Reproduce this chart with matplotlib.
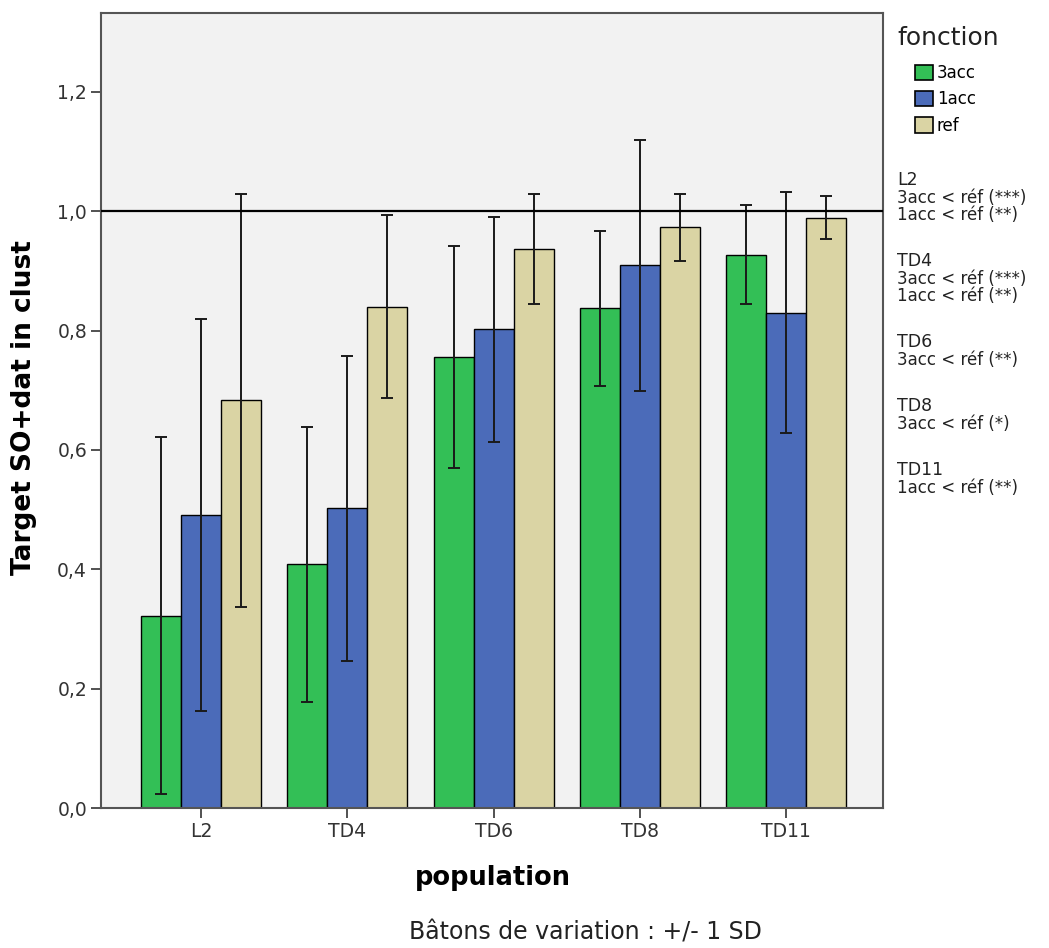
import numpy as np
import matplotlib
matplotlib.use('Agg')
import matplotlib.pyplot as plt
from matplotlib.patches import Patch

# data
populations = ['L2', 'TD4', 'TD6', 'TD8', 'TD11']
fonctions = ['3acc', '1acc', 'ref']
mean_3acc = [0.322, 0.408, 0.756, 0.837, 0.927]
mean_1acc = [0.491, 0.502, 0.802, 0.909, 0.830]
mean_ref = [0.683, 0.840, 0.936, 0.973, 0.989]
sd_3acc = [0.299, 0.231, 0.186, 0.130, 0.083]
sd_1acc = [0.328, 0.255, 0.188, 0.211, 0.202]
sd_ref = [0.346, 0.153, 0.092, 0.056, 0.036]
yticks = [0.0, 0.2, 0.4, 0.6, 0.8, 1.0, 1.2]
notes = [
    ('L2', ['3acc < réf (***)', '1acc < réf (**)']),
    ('TD4', ['3acc < réf (***)', '1acc < réf (**)']),
    ('TD6', ['3acc < réf (**)']),
    ('TD8', ['3acc < réf (*)']),
    ('TD11', ['1acc < réf (**)']),
]

colors = ['#33bf56', '#4b6bb9', '#dad4a4']
means = [mean_3acc, mean_1acc, mean_ref]
sds = [sd_3acc, sd_1acc, sd_ref]

W, H = 1049, 948
fig = plt.figure(figsize=(W / 100, H / 100), dpi=100)
ax = fig.add_axes([101 / W, 1 - 808 / H, (883 - 101) / W, (808 - 13) / H])
ax.set_facecolor('#f2f2f2')

x = np.arange(len(populations))
width = 0.273
for i in range(3):
    ax.bar(x + (i - 1) * width, means[i], width, color=colors[i],
           edgecolor='black', linewidth=1.0, zorder=2)
for i in range(3):
    ax.errorbar(x + (i - 1) * width, means[i], yerr=sds[i], fmt='none',
                ecolor='#1a1a1a', elinewidth=1.4, capsize=4.5, capthick=1.4,
                zorder=3)

ax.axhline(1.0, color='black', linewidth=1.6, zorder=4)

ax.set_xlim(-0.683, 4.66)
ax.set_ylim(0, 1.332)
ax.set_xticks(x)
ax.set_xticklabels(populations)
ax.set_yticks(yticks)
ax.set_yticklabels(['{:.1f}'.format(v).replace('.', ',') for v in yticks])
ax.tick_params(axis='both', direction='out', length=7, width=1.2,
               color='#333333', labelsize=13.5, labelcolor='#333333', pad=3)
for s in ax.spines.values():
    s.set_color('#555555')
    s.set_linewidth(1.5)

fig.text(24 / W, 1 - 408 / H, 'Target SO+dat in clust', rotation=90,
         ha='center', va='center', fontsize=19, fontweight='bold')
fig.text(493 / W, 1 - 878 / H, 'population', ha='center', va='center',
         fontsize=18.5, fontweight='bold')
fig.text(585 / W, 1 - 933 / H, 'Bâtons de variation : +/- 1 SD',
         ha='center', va='center', fontsize=17, color='#222222')

# legend
fig.text(897 / W, 1 - 38 / H, 'fonction', ha='left', va='center',
         fontsize=18, color='#222222')
leg_handles = [Patch(facecolor=c, edgecolor='black', linewidth=1.2) for c in colors]
fig.legend(leg_handles, fonctions, loc='upper left',
           bbox_to_anchor=(905 / W, 1 - 54 / H), frameon=False,
           fontsize=12, handlelength=1.05, handleheight=1.05,
           handletextpad=0.25, labelspacing=0.5, borderpad=0.1)

# significance notes on the right
y = 180
for head, lines in notes:
    fig.text(897 / W, 1 - y / H, head, ha='left', va='center', fontsize=12.5,
             color='#222222')
    y += 18
    for ln in lines:
        fig.text(897 / W, 1 - y / H, ln, ha='left', va='center',
                 fontsize=12, color='#222222')
        y += 17
    y += 29

fig.savefig('out.png', dpi=100)
